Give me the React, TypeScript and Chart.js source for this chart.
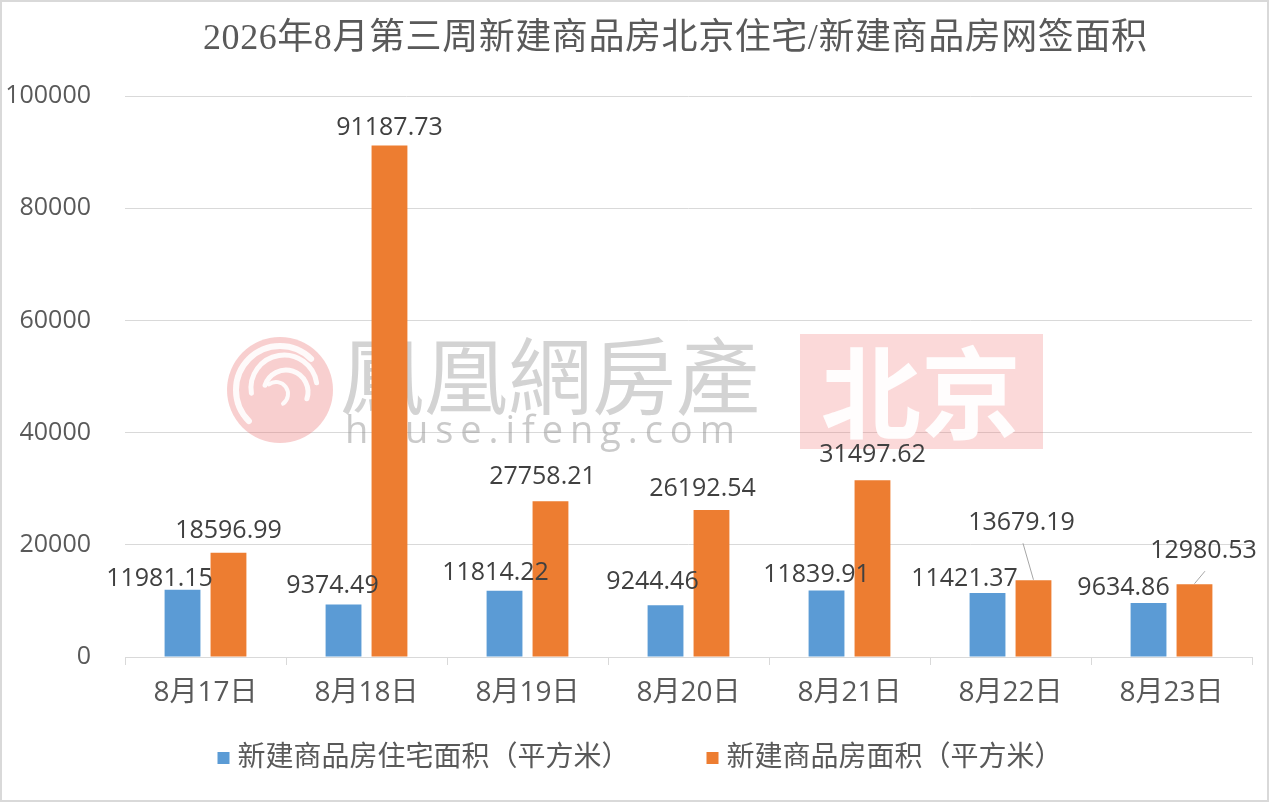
import React, { useEffect, useRef } from "react";
import { Chart, registerables } from "chart.js";

Chart.register(...registerables);

// ---------- data ----------
const categories = ["8月17日", "8月18日", "8月19日", "8月20日", "8月21日", "8月22日", "8月23日"];
const residentialArea = [11981.15, 9374.49, 11814.22, 9244.46, 11839.91, 11421.37, 9634.86];
const totalArea = [18596.99, 91187.73, 27758.21, 26192.54, 31497.62, 13679.19, 12980.53];
const seriesNames = ["新建商品房住宅面积（平方米）", "新建商品房面积（平方米）"];
const yMin = 0;
const yMax = 100000;
const yStep = 20000;
const titleText = "2026年8月第三周新建商品房北京住宅/新建商品房网签面积";

// label nudges [dx, gap above bar] per series, per category
const labelNudges = [
  [[-23, 4], [-11, 11], [-9, 11], [-13, 16], [-10, 9], [-23, 7], [-25, 8]],
  [[0, 15], [0, 10], [-8, 17], [-9, 14], [0, 18], [-12, 50], [9, 26]],
];
const leaderLines = [
  [false, false, false, false, false, false, false],
  [false, false, false, false, false, true, true],
];

const SANS = "'Open Sans', 'Noto Sans CJK SC', sans-serif";
const SERIF = "'Liberation Serif', 'Noto Sans CJK SC', serif";
const BLUE = "#5b9bd5";
const ORANGE = "#ed7d31";
const AXIS_TEXT = "#595959";
const GRID = "#d9d9d9";

function drawSpaced(ctx: CanvasRenderingContext2D, text: string, x: number, y: number, targetWidth: number) {
  const chars = Array.from(text);
  const widths = chars.map((c) => ctx.measureText(c).width);
  const natural = widths.reduce((a, b) => a + b, 0);
  const spacing = chars.length > 1 ? Math.max(0, (targetWidth - natural) / (chars.length - 1)) : 0;
  let cx = x;
  chars.forEach((c, i) => {
    ctx.fillText(c, cx, y);
    cx += widths[i] + spacing;
  });
}

const decorPlugin = {
  id: "decor",
  beforeDatasetsDraw(chart: any) {
    const ctx: CanvasRenderingContext2D = chart.ctx;
    ctx.save();
    // logo
    const cx = 280, cy = 390, r = 53;
    ctx.fillStyle = "rgba(235,110,110,0.33)";
    ctx.beginPath();
    ctx.arc(cx, cy, r, 0, Math.PI * 2);
    ctx.fill();
    ctx.strokeStyle = "rgba(255,255,255,0.9)";
    ctx.lineCap = "round";
    const swirls = [
      [0, 0, 44, 0.75, 1.75, 6],
      [4, -2, 33, 0.95, 1.95, 5],
      [6, 2, 22, 1.1, 2.1, 5],
      [-4, 4, 12, 1.3, 2.3, 4],
    ];
    swirls.forEach(([ox, oy, rr, a0, a1, w]) => {
      ctx.lineWidth = w;
      ctx.beginPath();
      ctx.arc(cx + ox, cy + oy, rr, Math.PI * a0, Math.PI * a1);
      ctx.stroke();
    });
    // brand text
    ctx.fillStyle = "rgba(150,150,150,0.42)";
    ctx.textAlign = "left";
    ctx.textBaseline = "middle";
    ctx.font = "84px 'Noto Sans CJK TC', 'Noto Sans CJK SC', sans-serif";
    drawSpaced(ctx, "鳳凰網房產", 340, 376, 430 - 84);
    ctx.fillStyle = "rgba(150,150,150,0.5)";
    ctx.font = "38px 'Open Sans', sans-serif";
    const domain = "house.ifeng.com";
    const dChars = Array.from(domain);
    const lastW = ctx.measureText(dChars[dChars.length - 1]).width;
    drawSpaced(ctx, domain, 345, 432, 425 - lastW);
    // city badge
    ctx.fillStyle = "rgba(240,120,120,0.28)";
    ctx.fillRect(800, 334, 243, 115);
    ctx.fillStyle = "rgba(255,255,255,0.95)";
    ctx.textAlign = "center";
    ctx.font = "bold 100px 'Noto Sans CJK SC', sans-serif";
    ctx.fillText("北京", 921, 393);
    ctx.restore();
  },
  afterDatasetsDraw(chart: any) {
    const ctx: CanvasRenderingContext2D = chart.ctx;
    ctx.save();
    ctx.font = `25px ${SANS}`;
    ctx.textAlign = "center";
    ctx.textBaseline = "alphabetic";
    chart.data.datasets.forEach((ds: any, di: number) => {
      const meta = chart.getDatasetMeta(di);
      meta.data.forEach((bar: any, i: number) => {
        const [dx, gap] = labelNudges[di][i];
        const lx = bar.x + dx;
        const ly = bar.y - gap;
        if (leaderLines[di][i]) {
          ctx.strokeStyle = "#a6a6a6";
          ctx.lineWidth = 1;
          ctx.beginPath();
          ctx.moveTo(lx + 1.5, ly + 13);
          ctx.lineTo(bar.x, bar.y - 0.5);
          ctx.stroke();
        }
        ctx.fillStyle = "#404040";
        ctx.fillText(Number(ds.data[i]).toFixed(2), lx, ly);
      });
    });
    ctx.restore();
  },
  afterDraw(chart: any) {
    const ctx: CanvasRenderingContext2D = chart.ctx;
    ctx.save();
    // title
    ctx.font = `36px ${SERIF}`;
    ctx.fillStyle = AXIS_TEXT;
    ctx.textBaseline = "middle";
    ctx.textAlign = "left";
    const target = 944;
    const chars = Array.from(titleText);
    const widths = chars.map((c) => ctx.measureText(c).width);
    const natural = widths.reduce((a, b) => a + b, 0);
    const spacing = Math.max(0, (target - natural) / (chars.length - 1));
    const total = natural + spacing * (chars.length - 1);
    let x = 675 - total / 2;
    chars.forEach((c, i) => {
      ctx.fillText(c, x, 40);
      x += widths[i] + spacing;
    });

    // legend (series names and colours taken from the datasets)
    ctx.font = `28px ${SANS}`;
    const box = 12, boxGap = 8, itemGap = 77, legendY = 758, legendCenterX = 640;
    const items = chart.data.datasets.map((ds: any) => ({
      text: ds.label as string,
      color: ds.backgroundColor as string,
      w: ctx.measureText(ds.label).width,
    }));
    const totalW =
      items.reduce((a: number, it: any) => a + box + boxGap + it.w, 0) + itemGap * (items.length - 1);
    let lx = legendCenterX - totalW / 2;
    items.forEach((it: any) => {
      ctx.fillStyle = it.color;
      ctx.fillRect(lx, legendY - box / 2, box, box);
      ctx.fillStyle = AXIS_TEXT;
      ctx.fillText(it.text, lx + box + boxGap, legendY);
      lx += box + boxGap + it.w + itemGap;
    });

    // frame
    ctx.strokeStyle = "#d9d9d9";
    ctx.lineWidth = 2;
    ctx.strokeRect(1, 1, chart.width - 2, chart.height - 2);
    ctx.restore();
  },
};

export default function App() {
  const canvasRef = useRef<HTMLCanvasElement | null>(null);

  useEffect(() => {
    document.body.style.margin = "0";
    const canvas = canvasRef.current;
    if (!canvas) return;
    const chart = new Chart(canvas, {
      type: "bar",
      data: {
        labels: categories,
        datasets: [
          {
            label: seriesNames[0],
            data: residentialArea,
            backgroundColor: BLUE,
            categoryPercentage: 0.571,
            barPercentage: 0.78,
          },
          {
            label: seriesNames[1],
            data: totalArea,
            backgroundColor: ORANGE,
            categoryPercentage: 0.571,
            barPercentage: 0.78,
          },
        ],
      },
      options: {
        responsive: false,
        animation: false,
        devicePixelRatio: 1,
        layout: { padding: { top: 96, right: 17, bottom: 0, left: 0 } },
        plugins: {
          title: { display: false },
          tooltip: { enabled: false },
          legend: { display: false },
        },
        scales: {
          x: {
            offset: true,
            grid: {
              offset: true,
              drawOnChartArea: false,
              drawTicks: true,
              tickLength: 8,
              color: GRID,
            },
            border: { display: true, color: GRID, width: 1 },
            ticks: {
              color: AXIS_TEXT,
              padding: 11,
              font: { size: 28, family: SANS },
              maxRotation: 0,
              autoSkip: false,
            },
            afterFit: (scale: any) => {
              scale.height = 145;
            },
          },
          y: {
            min: yMin,
            max: yMax,
            grid: { color: GRID, drawTicks: false, lineWidth: 1 },
            border: { display: false },
            ticks: {
              stepSize: yStep,
              color: AXIS_TEXT,
              padding: 34,
              font: { size: 25, family: SANS },
              callback: (v: any) => String(v),
            },
            afterFit: (scale: any) => {
              scale.width = 125;
            },
          },
        },
      },
      plugins: [decorPlugin],
    });
    return () => chart.destroy();
  }, []);

  return (
    <div style={{ position: "absolute", left: 0, top: 0, width: 1269, height: 802, background: "#fff" }}>
      <canvas ref={canvasRef} width={1269} height={802} style={{ display: "block" }} />
    </div>
  );
}
